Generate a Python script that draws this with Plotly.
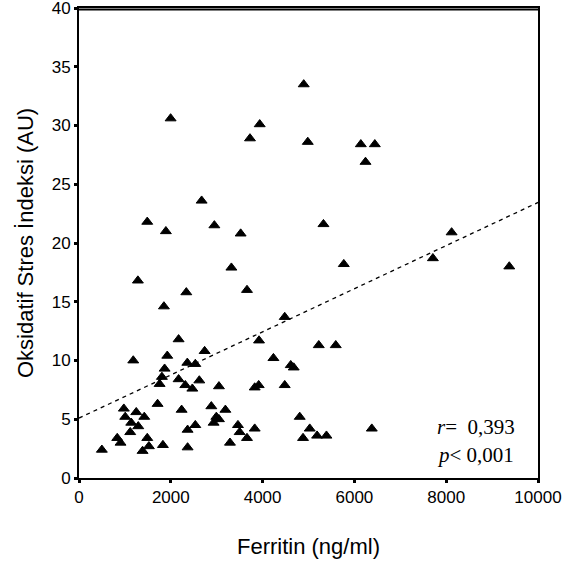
import plotly.graph_objects as go

# Data
ferritin = [498, 833, 905, 977, 1007, 1247, 1422, 1138, 1291, 1116, 1487, 1523, 1385, 1828,
            1712, 1182, 1283, 1487, 1893, 1850, 1996, 2170, 1923, 1865, 1806, 1756, 2170,
            2316, 2469, 2621, 2360, 2534, 2737, 2236, 2366, 2534, 2366, 2338, 2672, 2949,
            2883, 3189, 2992, 3049, 2933, 3049, 3289, 3320, 3463, 3500, 3522, 3660, 3660,
            3725, 3828, 3915, 3828, 3922, 3937, 4236, 4482, 4482, 4613, 4678, 4809, 4881,
            4896, 4984, 5027, 5187, 5224, 5326, 5391, 5594, 5769, 6140, 6242, 6379, 6445,
            7710, 8118, 9374]
osi = [2.4, 3.4, 3.0, 5.9, 5.2, 5.6, 5.2, 4.7, 4.4, 3.9, 3.4, 2.7, 2.3, 2.8,
       6.3, 10.0, 16.8, 21.8, 21.0, 14.6, 30.6, 11.8, 10.4, 9.3, 8.6, 8.0, 8.4,
       7.9, 7.6, 8.3, 9.8, 9.7, 10.8, 5.8, 4.1, 4.5, 2.6, 15.8, 23.6, 21.5,
       6.1, 5.8, 5.2, 5.0, 4.7, 7.8, 3.0, 17.9, 4.5, 3.9, 20.8, 3.4, 16.0,
       28.9, 7.7, 7.9, 4.2, 11.7, 30.1, 10.2, 13.7, 7.9, 9.6, 9.4, 5.2, 3.4,
       33.5, 28.6, 4.2, 3.6, 11.3, 21.6, 3.6, 11.3, 18.2, 28.4, 26.9, 4.2, 28.4,
       18.7, 20.9, 18.0]

fit_x = [0, 10000]
fit_y = [5.1, 23.45]

x_ticks = [0, 2000, 4000, 6000, 8000, 10000]
y_ticks = [0, 5, 10, 15, 20, 25, 30, 35, 40]

stats_r = "0,393"
stats_p = "0,001"

fig = go.Figure()
fig.add_trace(go.Scatter(
    x=fit_x, y=fit_y, mode="lines",
    line=dict(color="black", width=1.3, dash="4px,4px"),
    hoverinfo="skip", showlegend=False))
fig.add_trace(go.Scatter(
    x=ferritin, y=osi, mode="markers",
    marker=dict(symbol="triangle-up", size=9.5, color="black",
                line=dict(color="black", width=1)),
    showlegend=False))

axis_common = dict(
    showgrid=False, zeroline=False, showline=True, linecolor="black", linewidth=2,
    mirror=True, automargin=False,
    ticks="outside", ticklen=3, tickwidth=3, tickcolor="black",
    ticklabeloverflow="allow",
    tickfont=dict(family="Liberation Sans, Arial", size=17, color="black"),
)

fig.update_layout(
    width=577, height=566,
    margin=dict(l=79, r=39, t=8, b=88),
    plot_bgcolor="white", paper_bgcolor="white",
    xaxis=dict(range=[0, 10000], tickvals=x_ticks, ticktext=[str(v) for v in x_ticks],
               title=dict(text="Ferritin (ng/ml)", standoff=32,
                          font=dict(family="Liberation Sans, Arial", size=22, color="black")),
               **axis_common),
    yaxis=dict(range=[0, 40], tickvals=y_ticks, ticktext=[str(v) for v in y_ticks],
               title=dict(text="Oksidatif Stres İndeksi (AU)", standoff=12,
                          font=dict(family="Liberation Sans, Arial", size=22, color="black")),
               **axis_common),
    shapes=[
        dict(type="line", xref="paper", yref="paper", x0=0, x1=1, y0=0.997, y1=0.997,
             layer="above", line=dict(color="black", width=2)),
    ],
    annotations=[
        dict(xref="paper", yref="paper", x=0.776, y=0.108, xanchor="left", yanchor="middle",
             text="<i>r</i>=&nbsp;&nbsp;" + stats_r, showarrow=False,
             font=dict(family="Liberation Serif, Times New Roman", size=21, color="black")),
        dict(xref="paper", yref="paper", x=0.776, y=0.050, xanchor="left", yanchor="middle",
             text="<i>p</i>&lt; " + stats_p, showarrow=False,
             font=dict(family="Liberation Serif, Times New Roman", size=21, color="black")),
    ],
)

fig.write_html("out.html", config={"displayModeBar": False})
